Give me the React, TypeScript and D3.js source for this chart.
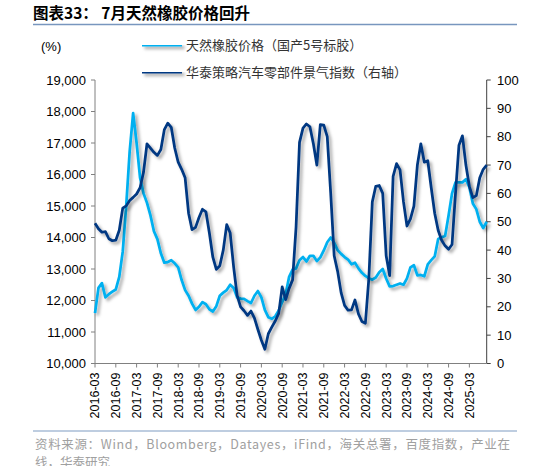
import React from "react";
import * as d3 from "d3";

// chart size
const width = 534,
	height = 466;

// monthly data, 2016-03 .. 2025-08
const months = d3.timeMonth.range(new Date(2016, 2, 1), new Date(2025, 8, 1)).map(d3.timeFormat("%Y-%m"));

// 天然橡胶价格（国产5号标胶），元/吨
const rubberPrice = [
	11600, 12400, 12550, 12100, 12200, 12280, 12350, 12750, 13550, 15000,
	16730, 17950, 17000, 15900, 15400, 15100, 14700, 14200, 13950, 13500,
	13200, 13220, 13280, 13180, 13050, 12650, 12330, 12150, 11900, 11700,
	11800, 11950, 11880, 11720, 11650, 11820, 12150, 12250, 12330, 12500,
	12400, 12100, 12060, 12050, 11980, 11920, 12150, 12300, 12100, 11700,
	11470, 11420, 11500, 11680, 11950, 12200, 12750, 12980, 13020, 13280,
	13380, 13240, 13420, 13420, 13250, 13370, 13590, 13850, 14000, 13830,
	13600, 13480, 13380, 13300, 13150, 13200, 13020, 12880, 12780, 12710,
	12660, 12730, 12900, 13000, 12700, 12450, 12460, 12500, 12540, 12500,
	12700, 13050, 13120, 12800, 12810, 12770, 13150, 13280, 13400, 13950,
	14005, 14050, 14700, 15400, 15750, 15750, 15750, 15850, 15600, 15080,
	14900, 14500, 14300, 14500,
];

// 华泰策略汽车零部件景气指数（右轴）
const autoPartsIndex = [
	49.5, 47.5, 46.3, 46.5, 44.0, 43.3, 43.5, 47, 54.8, 55.6,
	57.5, 58.6, 59.8, 62, 67.5, 77.5, 76, 74.5, 73.4, 75.5,
	82.5, 84.8, 83.3, 76, 71, 68.5, 65.5, 53, 47.2, 48,
	51.5, 54.4, 53.5, 46, 37.5, 33.2, 34.5, 40, 49, 46,
	34, 24, 20, 18.6, 17, 18.5, 16, 12, 8.2, 5,
	10.5, 12.8, 15, 17.7, 27, 22.5, 26.5, 29.5, 48, 78,
	83, 84.5, 83.5, 77.5, 70, 84.3, 84.1, 80, 60, 38,
	32.5, 25, 20.5, 18.8, 18.9, 22.4, 17.5, 14.8, 14.2, 30,
	57, 62.5, 62.8, 60, 38, 31, 66, 70.5, 68.3, 57,
	48.5, 51, 55.5, 70, 77.5, 71, 71.5, 62, 53, 47,
	43.5, 41.5, 40.3, 42, 60, 77, 80.3, 70, 62.5, 58.5,
	59.2, 65.5, 68.5, 70,
];

const xTickLabels = [
	"2016-03", "2016-09", "2017-03", "2017-09", "2018-03", "2018-09", "2019-03",
	"2019-09", "2020-03", "2020-09", "2021-03", "2021-09", "2022-03", "2022-09",
	"2023-03", "2023-09", "2024-03", "2024-09", "2025-03",
];
const leftTicks = [10000, 11000, 12000, 13000, 14000, 15000, 16000, 17000, 18000, 19000];
const rightTicks = [0, 10, 20, 30, 40, 50, 60, 70, 80, 90, 100];

const seriesNames = ["天然橡胶价格（国产5号标胶）", "华泰策略汽车零部件景气指数（右轴）"];
const colors = ["#00b0f0", "#003882"];

const plotLeft = 95,
	plotRight = 486.7,
	plotTop = 80,
	plotBottom = 363.5;

const sans = "'Liberation Sans', Arial, 'Noto Sans CJK SC', sans-serif";
const cjk = "'Noto Sans CJK SC', 'Liberation Sans', sans-serif";

export default function App() {
	const x = d3.scaleLinear().domain([0, months.length - 1]).range([plotLeft, plotRight]);
	const yLeft = d3.scaleLinear().domain([10000, 19000]).range([plotBottom, plotTop]);
	const yRight = d3.scaleLinear().domain([0, 100]).range([plotBottom, plotTop]);

	const rubberLine = d3
		.line<number>()
		.x((d, i) => x(i))
		.y((d) => yLeft(d));
	const indexLine = d3
		.line<number>()
		.x((d, i) => x(i))
		.y((d) => yRight(d));

	return (
		<svg
			width={width}
			height={height}
			style={{ position: "absolute", left: 0, top: 0, background: "#fff" }}
		>
			<defs>
				<filter id="shadow" filterUnits="userSpaceOnUse" x={0} y={0} width={width} height={height}>
					<feDropShadow dx="2.5" dy="2.5" stdDeviation="1.4" floodColor="#000" floodOpacity="0.35" />
				</filter>
			</defs>

			{/* title */}
			<text x={33} y={19} fontFamily={cjk} fontWeight="bold" fontSize={15.5} fill="#000">
				图表33：  7月天然橡胶价格回升
			</text>
			<line x1={33} x2={517} y1={24.5} y2={24.5} stroke="#7896be" strokeWidth={1.3} />

			{/* unit */}
			<text x={41} y={51} fontFamily={sans} fontSize={13} fill="#000">
				(%)
			</text>

			{/* legend */}
			{seriesNames.map((name, i) => (
				<g key={name} transform={`translate(142 ${45 + i * 27})`}>
					<line x1={0} x2={40} y1={0} y2={0} stroke={colors[i]} strokeWidth={3} filter="url(#shadow)" />
					<text x={44} y={5} fontFamily={cjk} fontSize={13} fill="#333">
						{name}
					</text>
				</g>
			))}

			{/* left axis */}
			<line x1={plotLeft} x2={plotLeft} y1={plotTop} y2={plotBottom} stroke="#808080" />
			{leftTicks.map((t) => (
				<g key={t}>
					<line x1={plotLeft - 4} x2={plotLeft} y1={yLeft(t)} y2={yLeft(t)} stroke="#808080" />
					<text
						x={86}
						y={yLeft(t)}
						dy="0.35em"
						textAnchor="end"
						fontFamily={sans}
						fontSize={13}
						fill="#000"
					>
						{d3.format(",")(t)}
					</text>
				</g>
			))}

			{/* right axis */}
			<line x1={plotRight} x2={plotRight} y1={plotTop} y2={plotBottom} stroke="#404040" />
			{rightTicks.map((t) => (
				<g key={t}>
					<line x1={plotRight} x2={plotRight + 4} y1={yRight(t)} y2={yRight(t)} stroke="#404040" />
					<text x={497} y={yRight(t)} dy="0.35em" fontFamily={sans} fontSize={13} fill="#000">
						{t}
					</text>
				</g>
			))}

			{/* bottom axis */}
			<line x1={plotLeft} x2={plotRight} y1={plotBottom} y2={plotBottom} stroke="#808080" />
			{xTickLabels.map((label) => {
				const xi = x(months.indexOf(label));
				return (
					<g key={label}>
						<line x1={xi} x2={xi} y1={plotBottom} y2={plotBottom + 4} stroke="#808080" />
						<text
							transform={`translate(${xi} ${plotBottom + 9}) rotate(-90)`}
							dy="0.35em"
							textAnchor="end"
							fontFamily={sans}
							fontSize={12.5}
							fill="#000"
						>
							{label}
						</text>
					</g>
				);
			})}

			{/* series */}
			<path
				d={rubberLine(rubberPrice)}
				fill="none"
				stroke={colors[0]}
				strokeWidth={2.75}
				strokeLinejoin="round"
				filter="url(#shadow)"
			/>
			<path
				d={indexLine(autoPartsIndex)}
				fill="none"
				stroke={colors[1]}
				strokeWidth={2.75}
				strokeLinejoin="round"
				filter="url(#shadow)"
			/>

			{/* source */}
			<line x1={33} x2={517} y1={431} y2={431} stroke="#a9bcd6" strokeWidth={1.3} />
			<text x={35} y={449} fontFamily={cjk} fontSize={12.5} fill="#a0a0a0" textLength={475} lengthAdjust="spacing">
				资料来源：Wind，Bloomberg，Datayes，iFind，海关总署，百度指数，产业在
			</text>
			<text x={35} y={467} fontFamily={cjk} fontSize={12.5} fill="#a0a0a0">
				线，华泰研究
			</text>
		</svg>
	);
}
